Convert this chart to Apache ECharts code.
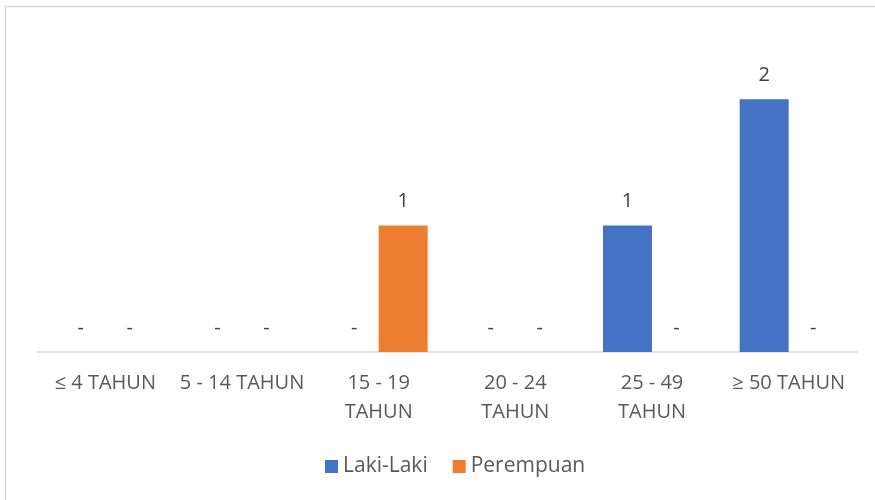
<!DOCTYPE html>
<html>
<head>
<meta charset="utf-8">
<script src="https://cdn.jsdelivr.net/npm/echarts@6/dist/echarts.min.js"></script>
<style>
  html, body { margin: 0; padding: 0; background: #fff; }
  #box { width: 875px; height: 500px; }
</style>
</head>
<body>
<div id="box"></div>
<script>
var mychart = echarts.init(document.getElementById("box"));
var kategori = ['≤ 4 TAHUN', '5 - 14 TAHUN', '15 - 19\nTAHUN', '20 - 24\nTAHUN', '25 - 49\nTAHUN', '≥ 50 TAHUN'];
var lakiLaki = [0, 0, 0, 0, 1, 2];
var perempuan = [0, 0, 1, 0, 0, 0];

var labelFmt = function (p) {
    return p.value === 0 ? '-' : p.value;
};

var options = {
    color: ['#4472c4', '#ed7d31'],
    textStyle: {
        fontFamily: 'Open Sans'
    },
    graphic: [{
        type: 'rect',
        shape: { x: 5.5, y: 6.5, width: 900, height: 600 },
        style: { fill: 'none', stroke: '#d9d9d9', lineWidth: 1.5 },
        silent: true
    }],
    grid: {
        left: 37,
        right: 18,
        top: 36,
        bottom: 148
    },
    legend: {
        bottom: 18,
        left: 320,
        itemWidth: 13,
        itemHeight: 13,
        itemGap: 25,
        icon: 'rect',
        textStyle: {
            fontSize: 21,
            color: '#595959',
            fontFamily: 'Open Sans'
        }
    },
    xAxis: {
        type: 'category',
        data: kategori,
        axisTick: { show: false },
        axisLine: {
            lineStyle: { color: '#d9d9d9', width: 1.5 }
        },
        axisLabel: {
            fontSize: 20,
            color: '#595959',
            margin: 17,
            lineHeight: 29,
            interval: 0
        }
    },
    yAxis: {
        type: 'value',
        min: 0,
        max: 2.5,
        show: false,
        splitLine: { show: false }
    },
    series: [{
        name: 'Laki-Laki',
        type: 'bar',
        barWidth: 49,
        barGap: '0%',
        data: lakiLaki,
        label: {
            show: true,
            position: 'top',
            distance: 14,
            fontSize: 20,
            color: '#404040',
            formatter: labelFmt
        }
    }, {
        name: 'Perempuan',
        type: 'bar',
        barWidth: 49,
        barGap: '0%',
        data: perempuan,
        label: {
            show: true,
            position: 'top',
            distance: 14,
            fontSize: 20,
            color: '#404040',
            formatter: labelFmt
        }
    }]
};

mychart.setOption(options);
</script>
</body>
</html>
